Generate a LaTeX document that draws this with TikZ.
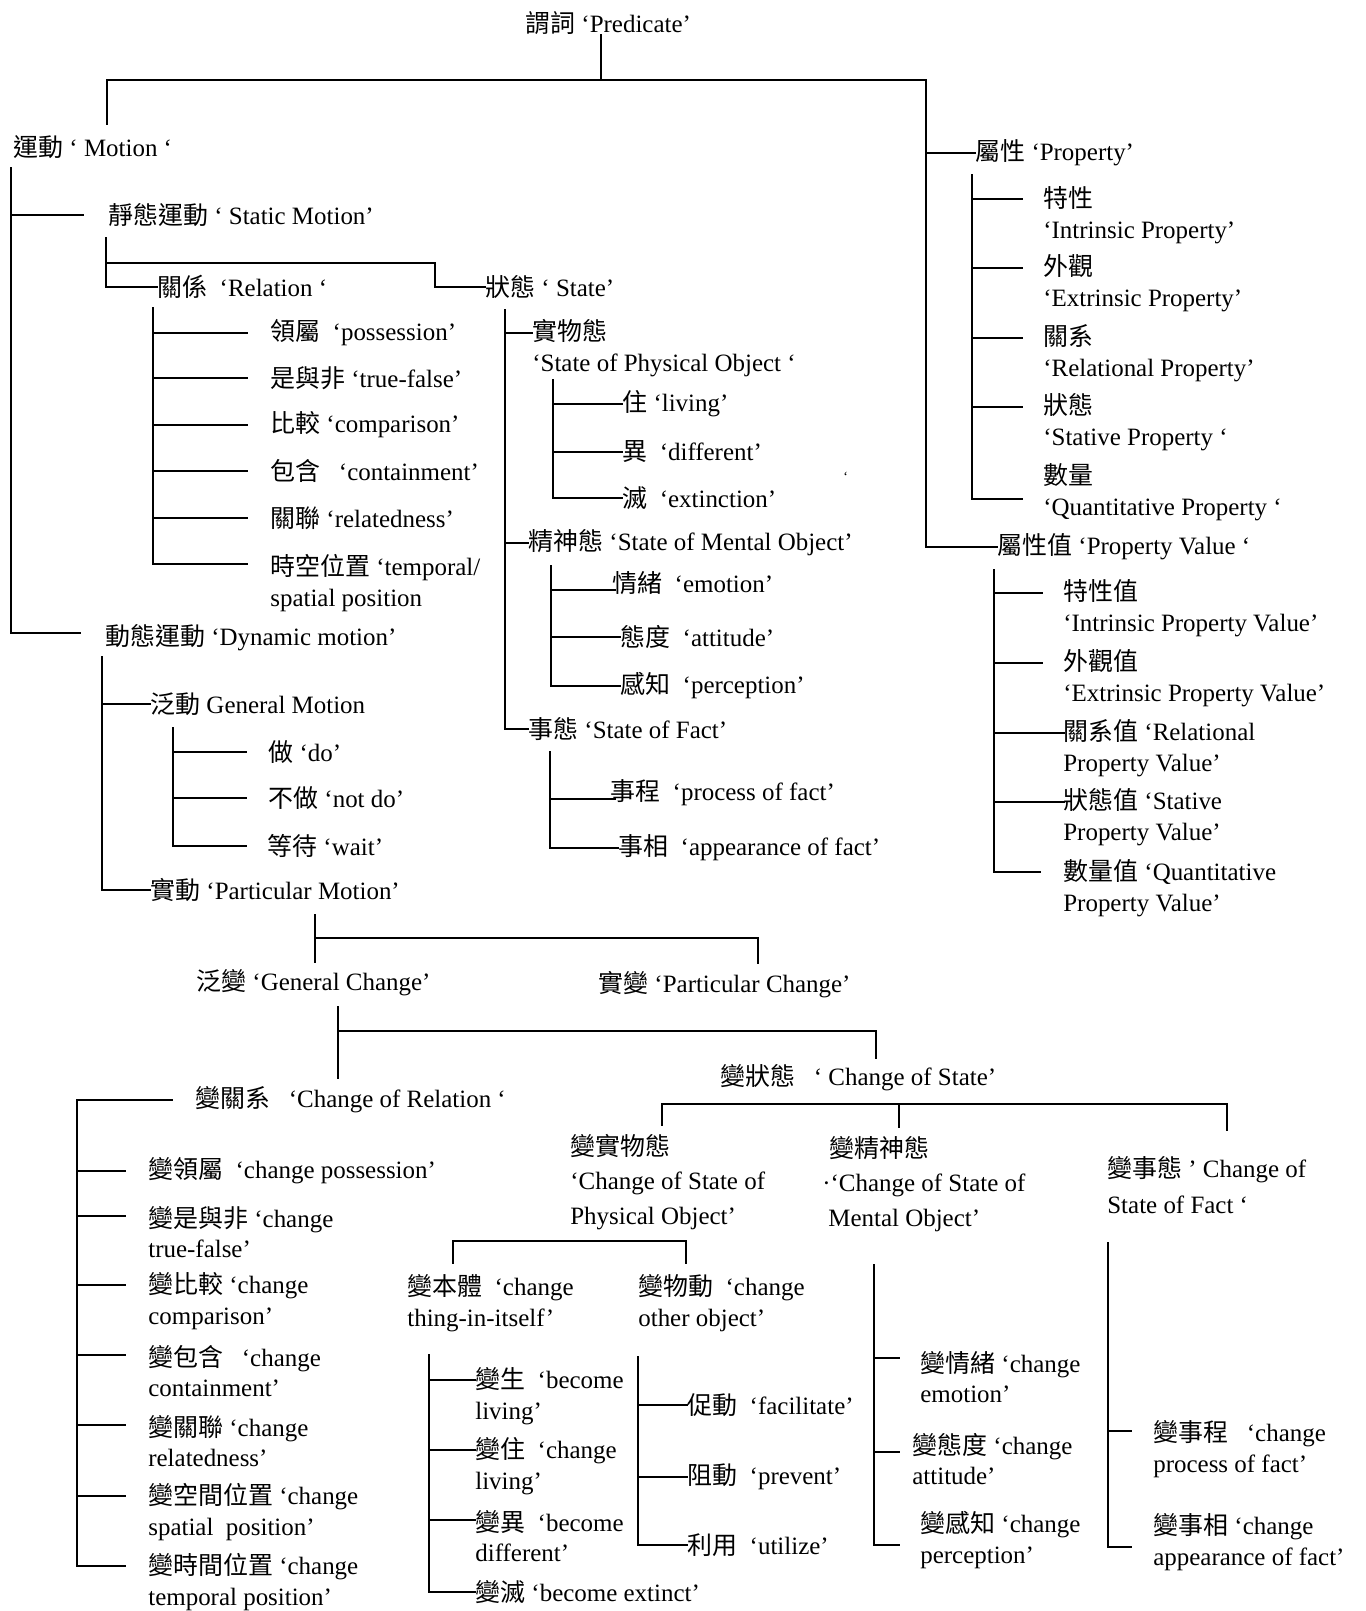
\documentclass[tikz,border=0pt]{standalone}
\usepackage{fontspec}
\setmainfont{Liberation Serif}
\newfontfamily\zhfont{Noto Sans CJK TC}
\newcommand{\zh}[1]{{\zhfont #1}}
\usetikzlibrary{calc}

\begin{document}
\begin{tikzpicture}[
            x=0.02cm, y=-0.02cm,
            font=\fontsize{14.2pt}{17.4pt}\selectfont,
            lbl/.style={anchor=west, inner sep=0pt, align=left},
            lbl3/.style={lbl, font=\fontsize{14.2pt}{19.6pt}\selectfont},
            tree/.style={line width=1.6pt, line cap=rect}
        ]
        \useasboundingbox (0,0) rectangle (1365,1611);

        %% ── RACINE ──────────────────────────────────────────
        \node[lbl] (pred) at (525,23) {\zh{謂詞} ‘Predicate’};
        \node[lbl] (motion) at (13,147) {\zh{運動} ‘ Motion ‘};
        \node[lbl] (prop) at (975,153) {\zh{屬性} ‘Property’};
        \node[lbl] (propval) at (997,547) {\zh{屬性值} ‘Property Value ‘};

        %% ── MOTION STATIQUE ─────────────────────────────────
        \node[lbl] (static) at (108,215) {\zh{靜態運動} ‘ Static Motion’};
        \node[lbl] (relation) at (157,287) {\zh{關係}\ \ ‘Relation ‘};
        \node[lbl] (state) at (485,287) {\zh{狀態} ‘ State’};

        \node[lbl] (poss) at (270,333) {\zh{領屬}\ \ ‘possession’};
        \node[lbl] (truefalse) at (270,378) {\zh{是與非} ‘true-false’};
        \node[lbl] (compar) at (270,425) {\zh{比較} ‘comparison’};
        \node[lbl] (contain) at (270,471) {\zh{包含}\ \ \ ‘containment’};
        \node[lbl] (related) at (270,518) {\zh{關聯} ‘relatedness’};
        \node[lbl] (tempo) at (270,583) {\zh{時空位置} ‘temporal/\\spatial position};

        \node[lbl] (physobj) at (532,348) {\zh{實物態}\\‘State of Physical Object ‘};
        \node[lbl] (living) at (622,404) {\zh{住} ‘living’};
        \node[lbl] (differ) at (622,452) {\zh{異}\ \ ‘different’};
        \node[lbl] (extinct) at (622,498) {\zh{滅}\ \ ‘extinction’};
        \node[lbl] (mental) at (528,543) {\zh{精神態} ‘State of Mental Object’};
        \node[lbl] (emotion) at (612,583) {\zh{情緒}\ \ ‘emotion’};
        \node[lbl] (attitude) at (620,637) {\zh{態度}\ \ ‘attitude’};
        \node[lbl] (percep) at (620,686) {\zh{感知}\ \ ‘perception’};
        \node[lbl] (fact) at (528,729) {\zh{事態} ‘State of Fact’};
        \node[lbl] (process) at (610,793) {\zh{事程}\ \ ‘process of fact’};
        \node[lbl] (appear) at (618,848) {\zh{事相}\ \ ‘appearance of fact’};
        \node[lbl, font=\footnotesize] (speck) at (843,477) {‘};

        %% ── PROPRIETES ──────────────────────────────────────
        \node[lbl] (intrin) at (1043,215) {\zh{特性}\\‘Intrinsic Property’};
        \node[lbl] (extrin) at (1043,283) {\zh{外觀}\\‘Extrinsic Property’};
        \node[lbl] (relprop) at (1043,353) {\zh{關系}\\‘Relational Property’};
        \node[lbl] (stative) at (1043,422) {\zh{狀態}\\‘Stative Property ‘};
        \node[lbl] (quanti) at (1043,492) {\zh{數量}\\‘Quantitative Property ‘};

        \node[lbl] (intrinv) at (1063,608) {\zh{特性值}\\‘Intrinsic Property Value’};
        \node[lbl] (extrinv) at (1063,678) {\zh{外觀值}\\‘Extrinsic Property Value’};
        \node[lbl] (relv) at (1063,748) {\zh{關系值} ‘Relational\\Property Value’};
        \node[lbl] (statv) at (1063,817) {\zh{狀態值} ‘Stative\\Property Value’};
        \node[lbl] (quantv) at (1063,888) {\zh{數量值} ‘Quantitative\\Property Value’};

        %% ── MOTION DYNAMIQUE ────────────────────────────────
        \node[lbl] (dynamic) at (105,638) {\zh{動態運動} ‘Dynamic motion’};
        \node[lbl] (genmot) at (150,704) {\zh{泛動} General Motion};
        \node[lbl] (gm_do) at (268,752) {\zh{做} ‘do’};
        \node[lbl] (gm_notdo) at (268,798) {\zh{不做} ‘not do’};
        \node[lbl] (gm_wait) at (267,846) {\zh{等待} ‘wait’};
        \node[lbl] (partmot) at (150,890) {\zh{實動} ‘Particular Motion’};
        \node[lbl] (genchg) at (196,983) {\zh{泛變} ‘General Change’};
        \node[lbl] (partchg) at (598,985) {\zh{實變} ‘Particular Change’};
        \node[lbl] (chgrel) at (195,1100) {\zh{變關系}\ \ \ ‘Change of Relation ‘};
        \node[lbl] (chgstate) at (720,1078) {\zh{變狀態}\ \ \ ‘ Change of State’};

        %% ── CHANGEMENT DE RELATION ──────────────────────────
        \node[lbl] (c_poss) at (148,1171) {\zh{變領屬}\ \ ‘change possession’};
        \node[lbl] (c_tf) at (148,1232) {\zh{變是與非} ‘change\\true-false’};
        \node[lbl] (c_comp) at (148,1301) {\zh{變比較} ‘change\\comparison’};
        \node[lbl] (c_cont) at (148,1371) {\zh{變包含}\ \ \ ‘change\\containment’};
        \node[lbl] (c_rel) at (148,1441) {\zh{變關聯} ‘change\\relatedness’};
        \node[lbl] (c_spat) at (148,1512) {\zh{變空間位置} ‘change\\spatial\ \ position’};
        \node[lbl] (c_temp) at (148,1582) {\zh{變時間位置} ‘change\\temporal position’};

        %% ── CHANGEMENT D'ETAT ───────────────────────────────
        \node[lbl3] (c_phys) at (570,1182) {\zh{變實物態}\\‘Change of State of\\Physical Object’};
        \node[lbl3] (c_ment) at (822,1184) {\hspace{0.14cm}\zh{變精神態}\\·‘Change of State of\\\hspace{0.12cm}Mental Object’};
        \node[lbl, font=\fontsize{14.2pt}{20.5pt}\selectfont] (c_fact) at (1107,1185) {\zh{變事態} ’ Change of\\State of Fact ‘};

        \node[lbl] (itself) at (407,1303) {\zh{變本體}\ \ ‘change\\thing-in-itself’};
        \node[lbl] (other) at (638,1303) {\zh{變物動}\ \ ‘change\\other object’};
        \node[lbl] (b_liv) at (475,1396) {\zh{變生}\ \ ‘become\\living’};
        \node[lbl] (c_liv) at (475,1466) {\zh{變住}\ \ ‘change\\living’};
        \node[lbl] (b_diff) at (475,1536) {\zh{變異}\ \ ‘become\\different’};
        \node[lbl] (b_ext) at (475,1592) {\zh{變滅} ‘become extinct’};
        \node[lbl] (facil) at (687,1405) {\zh{促動}\ \ ‘facilitate’};
        \node[lbl] (prevent) at (687,1477) {\zh{阻動}\ \ ‘prevent’};
        \node[lbl] (utilize) at (687,1545) {\zh{利用}\ \ ‘utilize’};

        \node[lbl] (c_emot) at (920,1377) {\zh{變情緒} ‘change\\emotion’};
        \node[lbl] (c_att) at (912,1459) {\zh{變態度} ‘change\\attitude’};
        \node[lbl] (c_perc) at (920,1540) {\zh{變感知} ‘change\\perception’};

        \node[lbl] (c_proc) at (1153,1449) {\zh{變事程}\ \ \ ‘change\\process of fact’};
        \node[lbl] (c_app) at (1153,1542) {\zh{變事相} ‘change\\appearance of fact’};

        %% ── TRAITS : RACINE ─────────────────────────────────
        \coordinate (root) at (601,80);
        \coordinate (mo_in) at (107,124);
        \coordinate (pr_bus) at (926,547);
        \draw[tree] (root |- pred.south) -- (root);
        \draw[tree] (mo_in) -- (mo_in |- root) -- (pr_bus |- root) -- (pr_bus) -- (propval.west);
        \draw[tree] (pr_bus |- prop) -- (prop.west);

        % motion
        \coordinate (mo_top) at (11,168);
        \coordinate (mo_bot) at (11,633);
        \draw[tree] (mo_top) -- (mo_bot) -- ++(69,0);
        \draw[tree] (mo_top |- static) -- ++(72,0);

        % static motion
        \coordinate (st_top) at (106,238);
        \coordinate (st_fork) at (106,263);
        \coordinate (st_step) at (435,263);
        \draw[tree] (st_top) -- (st_top |- relation) -- (relation.west);
        \draw[tree] (st_fork) -- (st_step) -- (st_step |- state) -- (state.west);

        % relation
        \coordinate (re_top) at (153,308);
        \coordinate (re_bot) at (153,564);
        \draw[tree] (re_top) -- (re_bot) -- ++(94,0);
        \draw[tree] (re_top |- poss) -- ++(94,0);
        \draw[tree] (re_top |- truefalse) -- ++(94,0);
        \draw[tree] (re_top |- compar) -- ++(94,0);
        \draw[tree] (re_top |- contain) -- ++(94,0);
        \draw[tree] (re_top |- related) -- ++(94,0);

        % state
        \coordinate (sa_top) at (505,310);
        \draw[tree] (sa_top) -- (sa_top |- fact) -- (fact.west);
        \draw[tree] ($(sa_top |- physobj)+(0,-15)$) -- ++(27,0);
        \draw[tree] (sa_top |- mental) -- (mental.west);

        \coordinate (po_top) at (553,380);
        \draw[tree] (po_top) -- (po_top |- extinct) -- (extinct.west);
        \draw[tree] (po_top |- living) -- (living.west);
        \draw[tree] (po_top |- differ) -- (differ.west);

        \coordinate (me_top) at (551,566);
        \draw[tree] (me_top) -- (me_top |- percep) -- (percep.west);
        \draw[tree] ($(me_top |- emotion)+(0,7)$) -- ++(64,0);
        \draw[tree] (me_top |- attitude) -- (attitude.west);

        \coordinate (fa_top) at (550,752);
        \draw[tree] (fa_top) -- (fa_top |- appear) -- (appear.west);
        \draw[tree] ($(fa_top |- process)+(0,6)$) -- ++(65,0);

        %% ── TRAITS : PROPRIETES ─────────────────────────────
        \coordinate (pp_top) at (972,175);
        \draw[tree] (pp_top) -- ($(pp_top |- quanti)+(0,7)$) -- ++(50,0);
        \draw[tree] ($(pp_top |- intrin)+(0,-16)$) -- ++(50,0);
        \draw[tree] ($(pp_top |- extrin)+(0,-15)$) -- ++(50,0);
        \draw[tree] ($(pp_top |- relprop)+(0,-15)$) -- ++(50,0);
        \draw[tree] ($(pp_top |- stative)+(0,-15)$) -- ++(50,0);

        \coordinate (pv_top) at (994,570);
        \draw[tree] (pv_top) -- ($(pv_top |- quantv)+(0,-16)$) -- ++(46,0);
        \draw[tree] ($(pv_top |- intrinv)+(0,-15)$) -- ++(48,0);
        \draw[tree] ($(pv_top |- extrinv)+(0,-15)$) -- ++(48,0);
        \draw[tree] ($(pv_top |- relv)+(0,-15)$) -- ++(70,0);
        \draw[tree] ($(pv_top |- statv)+(0,-15)$) -- ++(70,0);

        %% ── TRAITS : MOTION DYNAMIQUE ───────────────────────
        \coordinate (dy_top) at (102,657);
        \draw[tree] (dy_top) -- (dy_top |- partmot) -- (partmot.west);
        \draw[tree] (dy_top |- genmot) -- (genmot.west);

        \coordinate (gm_top) at (173,728);
        \draw[tree] (gm_top) -- (gm_top |- gm_wait) -- ++(73,0);
        \draw[tree] (gm_top |- gm_do) -- ++(73,0);
        \draw[tree] (gm_top |- gm_notdo) -- ++(73,0);

        \coordinate (pm_up) at (315,915);
        \coordinate (pm_dn) at (315,962);
        \coordinate (pm_fork) at (315,938);
        \coordinate (pc_dn) at (758,963);
        \draw[tree] (pm_up) -- (pm_dn);
        \draw[tree] (pm_fork) -- (pm_fork -| pc_dn) -- (pc_dn);

        \coordinate (gc_up) at (338,1007);
        \coordinate (gc_dn) at (338,1078);
        \coordinate (gc_fork) at (338,1031);
        \coordinate (cs_in) at (876,1058);
        \draw[tree] (gc_up) -- (gc_dn);
        \draw[tree] (gc_fork) -- (gc_fork -| cs_in) -- (cs_in);

        %% ── TRAITS : CHANGEMENT DE RELATION ─────────────────
        \coordinate (cr_top) at (77,1100);
        \coordinate (cr_bot) at (77,1566);
        \draw[tree] (cr_bot) ++(48,0) -- (cr_bot) -- (cr_top) -- ++(95,0);
        \draw[tree] (cr_top |- c_poss) -- ++(48,0);
        \draw[tree] ($(cr_top |- c_tf)+(0,-16)$) -- ++(48,0);
        \draw[tree] ($(cr_top |- c_comp)+(0,-16)$) -- ++(48,0);
        \draw[tree] ($(cr_top |- c_cont)+(0,-16)$) -- ++(48,0);
        \draw[tree] ($(cr_top |- c_rel)+(0,-16)$) -- ++(48,0);
        \draw[tree] ($(cr_top |- c_spat)+(0,-16)$) -- ++(48,0);

        %% ── TRAITS : CHANGEMENT D'ETAT ──────────────────────
        \coordinate (cs_l) at (662,1104);
        \coordinate (cs_m) at (899,1104);
        \coordinate (cs_r) at (1227,1104);
        \draw[tree] (cs_l) ++(0,21) -- (cs_l) -- (cs_r) -- ++(0,26);
        \draw[tree] (cs_m) -- ++(0,23);

        \coordinate (ph_l) at (453,1241);
        \coordinate (ph_r) at (686,1241);
        \draw[tree] (ph_l) ++(0,22) -- (ph_l) -- (ph_r) -- ++(0,22);

        \coordinate (it_top) at (429,1355);
        \draw[tree] (it_top) -- (it_top |- b_ext) -- (b_ext.west);
        \draw[tree] ($(it_top |- b_liv)+(0,-16)$) -- ++(46,0);
        \draw[tree] ($(it_top |- c_liv)+(0,-16)$) -- ++(46,0);
        \draw[tree] ($(it_top |- b_diff)+(0,-16)$) -- ++(46,0);

        \coordinate (ot_top) at (638,1357);
        \draw[tree] (ot_top) -- (ot_top |- utilize) -- (utilize.west);
        \draw[tree] (ot_top |- facil) -- (facil.west);
        \draw[tree] (ot_top |- prevent) -- (prevent.west);

        \coordinate (m2_top) at (874,1265);
        \draw[tree] (m2_top) -- ($(m2_top |- c_perc)+(0,5)$) -- ++(25,0);
        \draw[tree] ($(m2_top |- c_emot)+(0,-19)$) -- ++(25,0);
        \draw[tree] ($(m2_top |- c_att)+(0,-7)$) -- ++(25,0);

        \coordinate (f2_top) at (1108,1243);
        \draw[tree] (f2_top) -- ($(f2_top |- c_app)+(0,5)$) -- ++(23,0);
        \draw[tree] ($(f2_top |- c_proc)+(0,-18)$) -- ++(23,0);

\end{tikzpicture}
\end{document}
